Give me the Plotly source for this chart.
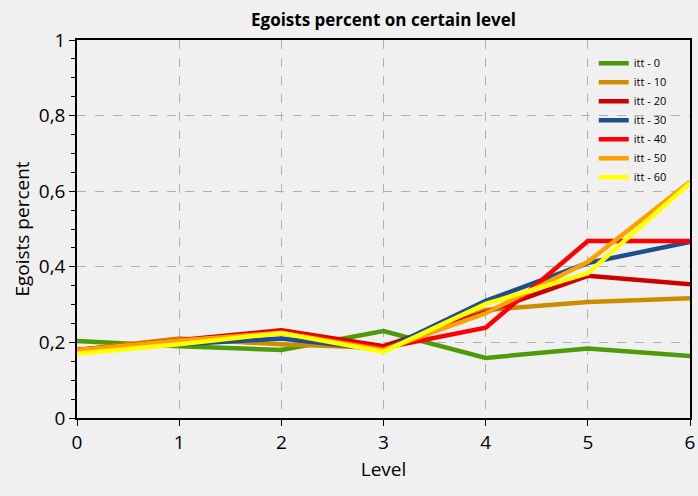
import plotly.graph_objects as go

levels = [0, 1, 2, 3, 4, 5, 6]
series_names = ["itt - 0", "itt - 10", "itt - 20", "itt - 30", "itt - 40", "itt - 50", "itt - 60"]
itt0 = [0.204, 0.190, 0.180, 0.230, 0.159, 0.184, 0.164]
itt10 = [0.180, 0.210, 0.195, 0.185, 0.286, 0.307, 0.317]
itt20 = [0.180, 0.205, 0.232, 0.190, 0.280, 0.376, 0.354]
itt30 = [0.180, 0.195, 0.210, 0.180, 0.310, 0.410, 0.466]
itt40 = [0.180, 0.200, 0.230, 0.185, 0.239, 0.468, 0.468]
itt50 = [0.180, 0.205, 0.225, 0.180, 0.277, 0.413, 0.625]
itt60 = [0.170, 0.195, 0.225, 0.175, 0.302, 0.383, 0.622]
colors = ["#4f9a0a", "#cc8e00", "#cc0000", "#1f4e8c", "#ff0000", "#ffa000", "#ffff00"]

fig = go.Figure()
for name, ys, c in zip(series_names, [itt0, itt10, itt20, itt30, itt40, itt50, itt60], colors):
    fig.add_trace(go.Scatter(x=levels, y=ys, mode="lines", name=name,
                             line=dict(color=c, width=4.5)))

font_family = "Open Sans, DejaVu Sans, sans-serif"
fig.update_layout(
    width=698, height=496,
    paper_bgcolor="#f0f0f0", plot_bgcolor="#f0f0f0",
    margin=dict(l=77, r=8, t=40, b=78, autoexpand=False),
    title=dict(text="<b>Egoists percent on certain level</b>", x=0.5, xanchor="center",
               xref="paper",
               y=1 - 20 / 496, yanchor="middle",
               font=dict(family=font_family, size=17, color="#000")),
    font=dict(family=font_family, color="#000"),
    showlegend=True,
    legend=dict(x=0.843, y=0.977, xanchor="left", yanchor="top",
                bgcolor="rgba(0,0,0,0)", font=dict(size=11, color="#000"),
                itemwidth=30, tracegroupgap=0),
)
fig.update_xaxes(
    range=[0, 6], tickvals=levels, ticktext=[str(v) for v in levels],
    title=dict(text="Level", font=dict(size=19), standoff=9),
    tickfont=dict(size=19), automargin=False,
    showline=True, linecolor="#000", linewidth=1.5, mirror=True,
    ticks="outside", ticklen=6, tickcolor="#000",
    showgrid=True, gridcolor="#b0b0b0", griddash="dash", gridwidth=1,
    zeroline=False,
)
fig.update_yaxes(
    range=[0, 1], tickvals=[0, 0.2, 0.4, 0.6, 0.8, 1],
    ticktext=["0", "0,2", "0,4", "0,6", "0,8", "1"],
    title=dict(text="Egoists percent", font=dict(size=19), standoff=4),
    tickfont=dict(size=19), automargin=False,
    showline=True, linecolor="#000", linewidth=1.5, mirror=True,
    ticks="outside", ticklen=6, tickcolor="#000",
    minor=dict(dtick=0.05, ticks="outside", ticklen=4, tickcolor="#000", showgrid=False),
    showgrid=True, gridcolor="#b0b0b0", griddash="dash", gridwidth=1,
    zeroline=False,
)
fig.write_html("out.html", config={"displayModeBar": False},
               post_script="document.body.style.margin='0';document.body.style.background='#f0f0f0';")
